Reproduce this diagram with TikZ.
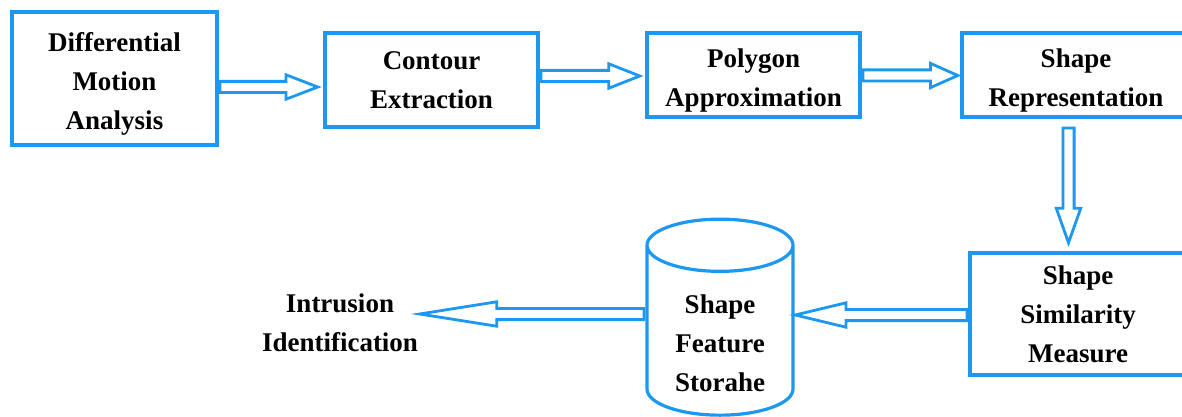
\documentclass[tikz,border=0pt]{standalone}
\usepackage{fontspec}
\setmainfont{Liberation Serif}
\usetikzlibrary{calc, shapes.geometric, shapes.arrows}
\definecolor{flowblue}{RGB}{28,152,240}
\newcommand{\labelfont}{\bfseries\fontsize{13.5}{19.5}\selectfont}
% text set a little lower than the middle of its shape
\newcommand{\lowtext}[2]{\raisebox{-#1}[\height][\depth]{\begin{tabular}{@{}c@{}}#2\end{tabular}}}

\begin{document}
\begin{tikzpicture}[x=0.5pt, y=-0.5pt,
  stage/.style={draw=flowblue, line width=1.6pt, align=center, inner sep=0pt, font=\labelfont},
  store/.style={cylinder, shape border rotate=90, aspect=0.58, draw=flowblue, line width=1.6pt,
    align=center, inner sep=0pt, font=\labelfont},
  % hollow block arrow laid from start to end of the connector
  flow/.style={to path={let \p1=(\tikztostart), \p2=(\tikztotarget),
      \n1={veclen(\x2-\x1,\y2-\y1)}, \n2={atan2(\y2-\y1,\x2-\x1)} in
      node[single arrow, draw=flowblue, line width=1.4pt, inner xsep=0pt, inner ysep=2.1pt,
        single arrow head extend=3.3pt, single arrow tip angle=#1,
        minimum height=\n1, anchor=tail, rotate=\n2] at (\p1) {}}},
  flow/.default=42]
  \useasboundingbox (0,0) rectangle (1182,417);

  \node[stage, minimum width=102.5pt, minimum height=66.5pt] (dma) at (114.5,78.5)
    {\lowtext{2pt}{Differential\\Motion\\Analysis}};
  \node[stage, minimum width=106.5pt, minimum height=47pt] (ce) at (431.5,80)
    {Contour\\Extraction};
  \node[stage, minimum width=106.5pt, minimum height=42pt] (pa) at (753.5,75)
    {\lowtext{2pt}{Polygon\\Approximation}};
  \node[stage, minimum width=114pt, minimum height=42pt] (sr) at (1076,75)
    {\lowtext{2pt}{Shape\\Representation}};
  \node[stage, minimum width=108pt, minimum height=61pt] (ssm) at (1078,314)
    {Shape\\Similarity\\Measure};
  \node[store, minimum width=73pt, minimum height=98pt] (sfs) at (720,331)
    {\raisebox{-6.25pt}[9.5pt][39.5pt]{\begin{tabular}[t]{@{}c@{}}Shape\\Feature\\Storahe\end{tabular}}};
  \node[align=center, font=\labelfont] (ii) at (340,323) {Intrusion\\Identification};

  \path (dma.east |- 0,87) to[flow=42] ($(ce.west |- 0,87)+(-7,0)$);
  \path (ce.east |- 0,76) to[flow=43] ($(pa.west |- 0,76)+(-7,0)$);
  \path (pa.east |- 0,75.5) to[flow=48] ($(sr.west |- 0,75.5)+(-4,0)$);
  \path ($(1068.5,0 |- sr.south)+(0,8)$) to[flow=39] ($(1068.5,0 |- ssm.north)+(0,-10)$);
  \path (ssm.west |- 0,315) to[flow=27] ($(sfs.east |- 0,315)+(2,0)$);
  \path (sfs.west |- 0,314) to[flow=18] ($(ii.east |- 0,314)+(-4,0)$);
\end{tikzpicture}
\end{document}
